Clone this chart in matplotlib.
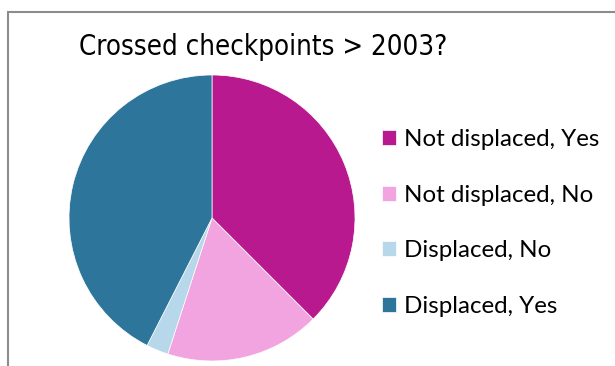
import matplotlib
matplotlib.use("Agg")
import matplotlib.pyplot as plt
from matplotlib.patches import Rectangle

labels = ["Not displaced, Yes", "Not displaced, No", "Displaced, No", "Displaced, Yes"]
counts = [15, 7, 1, 17]
colors = ["#B8198F", "#F2A4E0", "#B7D7EA", "#2E759B"]
title = "Crossed checkpoints > 2003?"

W, H = 615, 366
fig = plt.figure(figsize=(W / 100, H / 100), dpi=100)

# chart frame running off the right and bottom edges
fig.patches.append(Rectangle((8 / W, -0.1), 1.2, (H - 12) / H + 0.1,
                             transform=fig.transFigure, fill=False,
                             edgecolor="#8c8c8c", linewidth=1.5))

# pie axes: centre (212, 218) px, radius 143 px
cx, cy, r = 212, 218, 143
ax = fig.add_axes([(cx - r) / W, (H - cy - r) / H, 2 * r / W, 2 * r / H])
wedges, _ = ax.pie(counts, colors=colors, startangle=90, counterclock=False,
                   radius=1, wedgeprops=dict(edgecolor="white", linewidth=0.5))
ax.set_xlim(-1, 1)
ax.set_ylim(-1, 1)
ax.set_aspect("equal")
ax.axis("off")

fig.text(263 / W, 1 - 55 / H, title, ha="center", va="baseline",
         fontsize=19.8, family="DejaVu Sans", fontstretch="condensed",
         color="black")

leg = fig.legend(wedges, labels, loc="upper left",
                 bbox_to_anchor=(382 / W, 1 - 129 / H),
                 frameon=False, prop=dict(family="Lato", size=17.4),
                 handlelength=0.58, handleheight=0.58, handletextpad=0.33,
                 labelspacing=1.43, borderaxespad=0, borderpad=0)

fig.savefig("out.png", dpi=100)
